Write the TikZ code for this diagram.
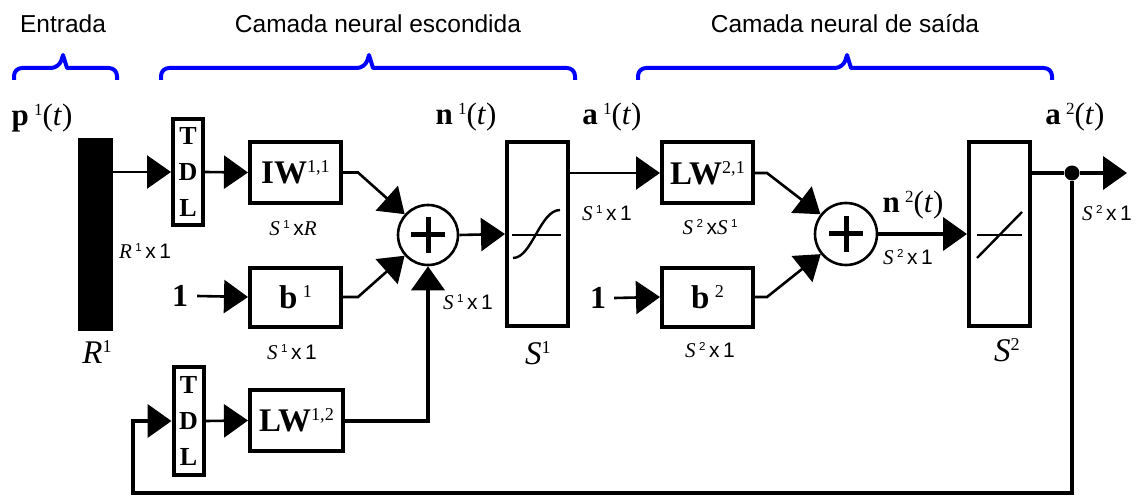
\documentclass[tikz,border=0pt]{standalone}
\usepackage{fontspec}
\usepackage{graphicx}
\setmainfont{Liberation Serif}
\setsansfont{Liberation Sans}
\usetikzlibrary{arrows.meta,calc}
\newcommand{\su}[1]{\raisebox{0.34em}{\scalebox{0.55}{#1}}}
\newcommand{\itx}[1]{{\rmfamily\itshape #1}}
\newcommand{\dimlab}[2]{\itx{S}\,\su{#1}\,{\sffamily x\,}#2}
\begin{document}
\begin{tikzpicture}[x=1pt,y=-1pt,
  blk/.style={draw,line width=4pt,inner sep=0pt,font=\fontsize{33}{33}\selectfont},
  tdl/.style={draw,line width=4pt,inner sep=0pt,minimum width=30pt,align=center,font=\fontsize{26}{36}\selectfont\bfseries},
  con/.style={line width=2.6pt},
  thk/.style={line width=4pt},
  arr/.style={con,-{Triangle[length=24pt,width=33pt]}},
  arrk/.style={thk,-{Triangle[length=24pt,width=33pt]}},
  sumc/.style={draw,circle,line width=2.6pt,minimum size=60pt,inner sep=0pt},
  dimt/.style={font=\sffamily\fontsize{21}{21}\selectfont,inner sep=0pt},
  bigl/.style={font=\fontsize{31}{31}\selectfont,inner sep=0pt},
  head/.style={font=\sffamily\fontsize{24.5}{24.5}\selectfont,inner sep=0pt},
  brace/.style={draw=blue,line width=4pt,line join=round}
]
\useasboundingbox (0,0) rectangle (1146,497);
% headers
\node[head] (hIn) at (63,24) {Entrada};
\node[head] (hHid) at (378,24) {Camada neural escondida};
\node[head] (hOut) at (845,24) {Camada neural de saída};
\draw[brace,rounded corners=8pt] (14,80) -- (14,68) -- (59,68) [sharp corners] -- (63,55) -- (67,68) [rounded corners=8pt] -- (117,68) -- (117,80);
\draw[brace,rounded corners=8pt] (161,80) -- (161,68) -- (365,68) [sharp corners] -- (369,55) -- (373,68) [rounded corners=8pt] -- (575,68) -- (575,80);
\draw[brace,rounded corners=8pt] (638,80) -- (638,68) -- (843,68) [sharp corners] -- (847,55) -- (851,68) [rounded corners=8pt] -- (1052,68) -- (1052,80);
% input
\node[bigl] (p1) at (42,118) {\textbf{p}\,\su{1}(\textit{t})};
\node[draw,fill=black,line width=0pt,minimum width=34pt,minimum height=191pt,inner sep=0pt] (bar) at (95,234.5) {};
\node[bigl,font=\fontsize{33}{33}\selectfont] (R1) at (97,352) {\textit{R}\su{1}};
\node[dimt] (R1x1) at (145,251) {\itx{R}\,\su{1}\,x\,1};
% hidden layer
\node[tdl,minimum height=106pt] (tdl1) at (188,172) {T\\D\\L};
\node[blk,minimum width=91pt,minimum height=61pt] (IW) at (295.5,172.5) {\textbf{IW}\su{1,1}};
\node[dimt] (dIW) at (293,228) {\itx{S}\,\su{1}\,x\itx{R}};
\node[bigl,font=\fontsize{32}{32}\selectfont\bfseries] (one1) at (180,296) {1};
\node[blk,minimum width=91pt,minimum height=59pt] (b1) at (295.5,297) {\textbf{b}\,\su{1}};
\node[dimt] (db1) at (292,352) {\dimlab{1}{1}};
\node[tdl,minimum height=108pt] (tdl2) at (188.5,421) {T\\D\\L};
\node[blk,minimum width=93pt,minimum height=61pt] (LW12) at (296.5,420.5) {\textbf{LW}\su{1,2}};
\node[sumc] (sum1) at (428,235) {};
\draw[line width=5pt] ([xshift=-17pt]sum1.center) -- ([xshift=17pt]sum1.center);
\draw[line width=5pt] ([yshift=-18pt]sum1.center) -- ([yshift=18pt]sum1.center);
\node[bigl] (n1) at (466,117) {\textbf{n}\,\su{1}(\textit{t})};
\node[dimt] (dn1) at (468,302) {\dimlab{1}{1}};
\node[blk,minimum width=61pt,minimum height=184pt] (f1) at (537.5,234) {};
\draw[line width=1.4pt] (512,235) -- (561,235);
\draw[line width=2.4pt] (513,258) .. controls (532,258) and (540,210) .. (560,210);
\node[bigl,font=\fontsize{33}{33}\selectfont] (S1) at (538,353) {\textit{S}\su{1}};
\node[bigl] (a1) at (612,117) {\textbf{a}\,\su{1}(\textit{t})};
\node[dimt] (da1) at (607,213) {\dimlab{1}{1}};
% output layer
\node[bigl,font=\fontsize{32}{32}\selectfont\bfseries] (one2) at (598,298) {1};
\node[blk,minimum width=91pt,minimum height=61pt] (LW21) at (707.5,173) {\textbf{LW}\su{2,1}};
\node[dimt] (dLW21) at (710,227) {\itx{S}\,\su{2}\,x\itx{S}\,\su{1}};
\node[blk,minimum width=91pt,minimum height=59pt] (b2) at (707.5,297) {\textbf{b}\,\su{2}};
\node[dimt] (db2) at (710,350) {\dimlab{2}{1}};
\node[sumc,minimum size=62pt] (sum2) at (846,234) {};
\draw[line width=5pt] ([xshift=-17pt]sum2.center) -- ([xshift=17pt]sum2.center);
\draw[line width=5pt] ([yshift=-18pt]sum2.center) -- ([yshift=18pt]sum2.center);
\node[bigl] (n2) at (913,205) {\textbf{n}\,\su{2}(\textit{t})};
\node[dimt] (dn2) at (908,257) {\dimlab{2}{1}};
\node[blk,minimum width=61pt,minimum height=184pt] (f2) at (999.5,234) {};
\draw[line width=1.4pt] (977,235) -- (1022,235);
\draw[line width=2.4pt] (977,258) -- (1022,212);
\node[bigl,font=\fontsize{33}{33}\selectfont] (S2) at (1007,350) {\textit{S}\su{2}};
\node[bigl] (a2) at (1075,117) {\textbf{a}\,\su{2}(\textit{t})};
\node[dimt] (da2) at (1107,213) {\dimlab{2}{1}};
\node[circle,fill=black,minimum size=15pt,inner sep=0pt] (dot) at (1072,173) {};
\coordinate (outend) at (1127,173);
\coordinate (fbB) at (133,493);
% connectors
\draw[arr] (bar.east |- tdl1) -- (tdl1.west);
\draw[arr] (tdl1.east) -- (IW.west);
\draw[arr] ([xshift=9pt]one1.east) -- (b1.west);
\draw[arr] (tdl2.east) -- (LW12.west);
\draw[arr] (IW.east) -- ++(15,0) -- (sum1);
\draw[arr] (b1.east) -- ++(15,0) -- (sum1);
\draw[arrk] (LW12.east) -| (sum1.south);
\draw[arr] (sum1.east) -- (f1.west);
\draw[arr] (f1.east |- LW21) -- (LW21.west);
\draw[arr] ([xshift=8pt]one2.east) -- (b2.west);
\draw[arr] (LW21.east) -- ++(12,0) -- (sum2);
\draw[arr] (b2.east) -- ++(12,0) -- (sum2);
\draw[arrk] (sum2.east) -- (f2.west);
\draw[thk] (f2.east |- dot) -- (dot);
\draw[arrk] (dot) -- (outend);
\draw[arrk] (dot) |- (fbB) |- (tdl2.west);
\end{tikzpicture}
\end{document}
